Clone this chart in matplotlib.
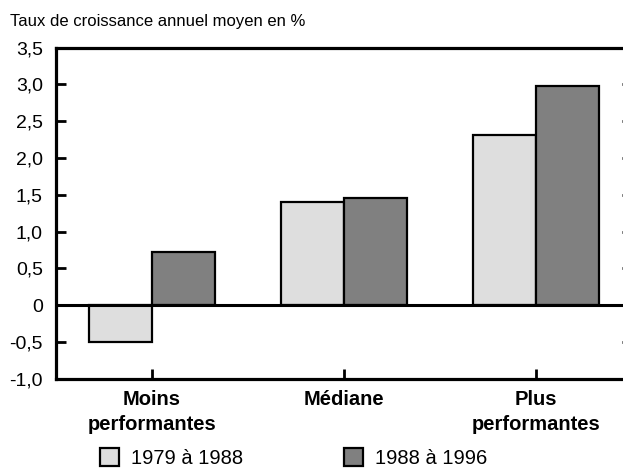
import matplotlib.pyplot as plt
from matplotlib.patches import Patch

plt.rcParams['font.family'] = ['Liberation Sans', 'DejaVu Sans']

categories = ['Moins\nperformantes', 'Médiane', 'Plus\nperformantes']
periode_1979_1988 = [-0.50, 1.40, 2.31]
periode_1988_1996 = [0.72, 1.45, 2.98]
series_labels = ['1979 à 1988', '1988 à 1996']
yticks = [-1.0, -0.5, 0, 0.5, 1.0, 1.5, 2.0, 2.5, 3.0, 3.5]
ytick_labels = ['-1,0', '-0,5', '0', '0,5', '1,0', '1,5', '2,0', '2,5', '3,0', '3,5']

light = '#dedede'
dark = '#808080'

fig = plt.figure(figsize=(6.23, 4.68), dpi=100)
ax = fig.add_axes([56 / 623, 89.3 / 468, 576 / 623, 331.2 / 468])

x = list(range(len(categories)))
w = 0.33
ax.bar([i - w / 2 for i in x], periode_1979_1988, width=w, color=light,
       edgecolor='black', linewidth=1.6, zorder=3)
ax.bar([i + w / 2 for i in x], periode_1988_1996, width=w, color=dark,
       edgecolor='black', linewidth=1.6, zorder=3)
ax.axhline(0, color='black', linewidth=2.2, zorder=4)

ax.set_xlim(-0.5, 2.5)
ax.set_ylim(-1.0, 3.5)
ax.set_yticks(yticks)
ax.set_yticklabels(ytick_labels, fontsize=14)
ax.set_xticks(x)
ax.set_xticklabels(categories, fontsize=14.5, fontweight='bold', linespacing=1.38)

for side in ['left', 'top', 'bottom']:
    ax.spines[side].set_linewidth(2.3)
ax.spines['right'].set_visible(False)

ax.tick_params(axis='y', direction='in', length=7, width=2, pad=9.5,
               left=True, right=True)
ax.tick_params(axis='x', direction='in', length=7, width=2, pad=8)

fig.text(10 / 623, 1 - 26 / 468, 'Taux de croissance annuel moyen en %',
         fontsize=12, va='baseline', ha='left')

handles = [Patch(facecolor=light, edgecolor='black', linewidth=1.6),
           Patch(facecolor=dark, edgecolor='black', linewidth=1.6)]
fig.legend(handles, series_labels, loc='lower left', ncol=2,
           bbox_to_anchor=(92 / 623, -8 / 468), frameon=False, fontsize=14.5,
           handlelength=0.95, handleheight=0.95, handletextpad=0.6,
           columnspacing=5.0, borderaxespad=0)

plt.savefig('out.png')
